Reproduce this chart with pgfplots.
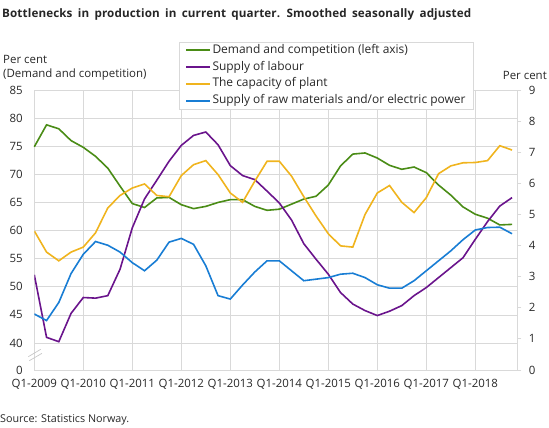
\documentclass[border=0pt]{standalone}
\usepackage{fontspec}
\setmainfont{Open Sans}
\newfontfamily\titlefont[LetterSpace=1, WordSpace=1.7]{Open Sans}
\usepackage{pgfplots}
\pgfplotsset{compat=1.18}

\definecolor{cgreen}{RGB}{74,140,22}
\definecolor{cpurple}{RGB}{106,20,140}
\definecolor{cyellow}{RGB}{240,180,30}
\definecolor{cblue}{RGB}{24,125,212}
\definecolor{cgrid}{RGB}{217,217,217}
\definecolor{ctext}{RGB}{40,40,40}

\begin{document}
\begin{tikzpicture}[x=1bp,y=1bp]
\path[use as bounding box] (0,0) rectangle (549,427);

% left axis: demand and competition, broken between 0 and 40
\begin{axis}[
  at={(34.3bp,57bp)}, anchor=south west,
  scale only axis, width=483bp, height=280bp,
  xmin=0, xmax=39.43, ymin=35.2, ymax=85,
  xtick={0,4,...,36},
  xticklabels={Q1-2009,Q1-2010,Q1-2011,Q1-2012,Q1-2013,Q1-2014,Q1-2015,Q1-2016,Q1-2017,Q1-2018},
  ytick={35.2,40,45,50,55,60,65,70,75,80,85},
  yticklabels={0,40,45,50,55,60,65,70,75,80,85},
  grid=major, grid style={cgrid, line width=0.8bp},
  axis line style={cgrid, line width=0.8bp},
  major tick length=0pt,
  tick label style={font=\fontsize{11.5}{13}\selectfont, text=ctext},
  xticklabel style={yshift=-6bp},
  yticklabel style={xshift=-8bp},
  /pgf/number format/assume math mode=true,
  clip=false,
]
\addplot[cgreen, line width=1.6bp] coordinates {
(0,74.9)(1,78.8)(2,78.1)(3,76.0)(4,74.8)(5,73.2)(6,71.1)(7,67.9)(8,64.8)(9,64.1)
(10,65.8)(11,65.9)(12,64.6)(13,63.9)(14,64.3)(15,65.0)(16,65.5)(17,65.5)(18,64.3)(19,63.6)
(20,63.8)(21,64.7)(22,65.6)(23,66.1)(24,68.1)(25,71.5)(26,73.6)(27,73.8)(28,72.9)(29,71.6)
(30,70.9)(31,71.3)(32,70.3)(33,68.1)(34,66.3)(35,64.2)(36,62.9)(37,62.2)(38,61.0)(39,61.1)
};
\end{axis}

% right axis
\begin{axis}[
  at={(34.3bp,57bp)}, anchor=south west,
  scale only axis, width=483bp, height=280bp,
  xmin=0, xmax=39.43, ymin=0, ymax=9,
  hide x axis,
  axis y line*=right,
  ytick={0,1,...,9},
  axis line style={cgrid, line width=0.8bp},
  tick align=outside, major tick length=4bp,
  major tick style={cgrid, line width=0.8bp},
  tick label style={font=\fontsize{11.5}{13}\selectfont, text=ctext},
  yticklabel style={xshift=4bp},
  /pgf/number format/assume math mode=true,
  legend style={at={(0.3002,1.1725)}, anchor=north west,
    draw=cgrid, fill=white, inner xsep=6bp, inner ysep=0bp,
    font=\fontsize{12}{13}\selectfont, text=ctext,
    nodes={text height=8bp, text depth=2.5bp, inner ysep=3.2bp, inner xsep=1.2bp}},
  legend cell align=left,
  legend image code/.code={\draw[#1] (0bp,0bp) -- (24bp,0bp);},
]
\addlegendimage{cgreen, line width=1.8bp}
\addlegendentry{Demand and competition (left axis)}
\addplot[cpurple, line width=1.6bp] coordinates {
(0,3.06)(1,1.05)(2,0.91)(3,1.82)(4,2.33)(5,2.31)(6,2.39)(7,3.24)(8,4.57)(9,5.50)
(10,6.10)(11,6.71)(12,7.22)(13,7.54)(14,7.65)(15,7.24)(16,6.57)(17,6.25)(18,6.12)(19,5.75)
(20,5.37)(21,4.82)(22,4.06)(23,3.56)(24,3.08)(25,2.49)(26,2.12)(27,1.91)(28,1.75)(29,1.89)
(30,2.07)(31,2.39)(32,2.65)(33,2.97)(34,3.29)(35,3.61)(36,4.20)(37,4.77)(38,5.27)(39,5.54)
};
\addlegendentry{Supply of labour}
\addplot[cyellow, line width=1.6bp] coordinates {
(0,4.47)(1,3.79)(2,3.51)(3,3.79)(4,3.95)(5,4.41)(6,5.21)(7,5.61)(8,5.85)(9,5.98)
(10,5.61)(11,5.57)(12,6.25)(13,6.60)(14,6.73)(15,6.28)(16,5.69)(17,5.39)(18,6.07)(19,6.71)
(20,6.71)(21,6.23)(22,5.57)(23,4.95)(24,4.38)(25,3.99)(26,3.95)(27,5.00)(28,5.69)(29,5.93)
(30,5.39)(31,5.06)(32,5.54)(33,6.31)(34,6.56)(35,6.66)(36,6.67)(37,6.73)(38,7.21)(39,7.07)
};
\addlegendentry{The capacity of plant}
\addplot[cblue, line width=1.6bp] coordinates {
(0,1.80)(1,1.59)(2,2.17)(3,3.10)(4,3.72)(5,4.13)(6,4.01)(7,3.79)(8,3.45)(9,3.19)
(10,3.53)(11,4.11)(12,4.23)(13,4.04)(14,3.35)(15,2.39)(16,2.28)(17,2.73)(18,3.15)(19,3.51)
(20,3.51)(21,3.19)(22,2.87)(23,2.92)(24,2.97)(25,3.08)(26,3.11)(27,2.97)(28,2.74)(29,2.63)
(30,2.63)(31,2.87)(32,3.19)(33,3.51)(34,3.83)(35,4.19)(36,4.50)(37,4.58)(38,4.59)(39,4.38)
};
\addlegendentry{Supply of raw materials and/or electric power}
\end{axis}

% axis break marks
\draw[cgrid!80!gray, line width=0.7bp] (28.3,70.3) -- (40.7,77.7);
\draw[cgrid!80!gray, line width=0.7bp] (29.3,66.3) -- (42,73.7);

\node[anchor=base west, inner sep=0, text=black!85, font=\titlefont\bfseries\fontsize{11.7}{14}\selectfont] at (2,409) {Bottlenecks in production in current quarter. Smoothed seasonally adjusted};
\node[anchor=west, inner sep=0, text=ctext, font=\fontsize{11.5}{13}\selectfont] at (3,367.7) {Per cent};
\node[anchor=west, inner sep=0, text=ctext, font=\fontsize{11.5}{13}\selectfont] at (3,352) {(Demand and competition)};
\node[anchor=east, inner sep=0, text=ctext, font=\fontsize{11.5}{13}\selectfont] at (547,352) {Per cent};
\node[anchor=west, inner sep=0, text=ctext, font=\fontsize{10.8}{12}\selectfont] at (0,7) {Source: Statistics Norway.};
\end{tikzpicture}
\end{document}
